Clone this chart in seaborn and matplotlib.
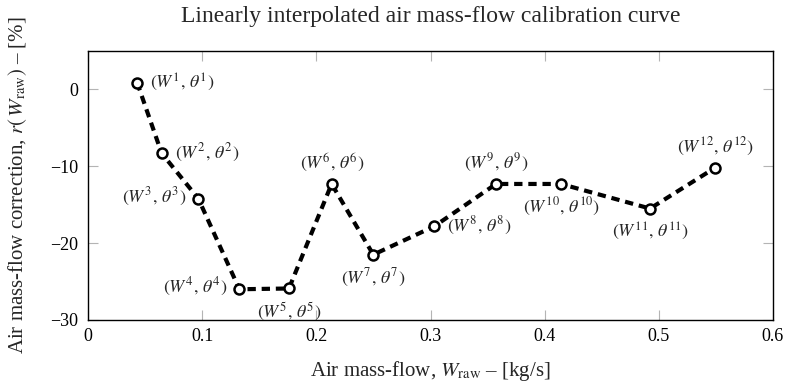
import numpy as np
import pandas as pd
import matplotlib
matplotlib.use("Agg")
import matplotlib.pyplot as plt
import seaborn as sns

# Точки калибровочной кривой
w_raw = [0.043, 0.0645, 0.0966, 0.1326, 0.176, 0.2134, 0.2499, 0.3034, 0.3574, 0.4143, 0.4923, 0.5492]
correction = [0.9, -8.3, -14.2, -26.0, -25.9, -12.3, -21.5, -17.8, -12.3, -12.3, -15.5, -10.2]
point_names = [str(i) for i in range(1, 13)]

x_ticks = [0, 0.1, 0.2, 0.3, 0.4, 0.5, 0.6]
x_tick_labels = ["0", "0.1", "0.2", "0.3", "0.4", "0.5", "0.6"]
y_ticks = [0, -10, -20, -30]
y_tick_labels = ["0", "\u221210", "\u221220", "\u221230"]

# куда ставить подпись: e/w/n/s
label_side = ["e", "e", "w", "w", "s", "n", "s", "e", "n", "s", "s", "n"]

df = pd.DataFrame({"W": w_raw, "r": correction})

sns.set_style("ticks")
plt.rcParams["font.family"] = ["Liberation Serif", "DejaVu Serif"]
plt.rcParams["mathtext.fontset"] = "stix"

fig = plt.figure(figsize=(7.87, 3.86), dpi=100)
ax = fig.add_axes([88 / 787, 1 - 320 / 386, (773 - 88) / 787, (320 - 51) / 386])

sns.lineplot(data=df, x="W", y="r", ax=ax, color="black", lw=3,
             linestyle=(0, (2, 1.4)), marker="o", markersize=7.2,
             markerfacecolor="white", markeredgecolor="black",
             markeredgewidth=1.8, sort=False)

offsets = {"e": ((13, 0), "left", "center"),
           "w": ((-12, 2), "right", "center"),
           "n": ((0, 21), "center", "center"),
           "s": ((0, -23), "center", "center")}
for x, y, name, side in zip(w_raw, correction, point_names, label_side):
    (dx, dy), ha, va = offsets[side]
    ax.annotate(rf"$(W^{{{name}}},\,\theta^{{{name}}})$", (x, y),
                xytext=(dx, dy), textcoords="offset pixels",
                ha=ha, va=va, fontsize=13)

ax.set_xlim(0, 0.6)
ax.set_ylim(-30, 5)
ax.set_xticks(x_ticks)
ax.set_xticklabels(x_tick_labels)
ax.set_yticks(y_ticks)
ax.set_yticklabels(y_tick_labels)
ax.tick_params(axis="both", direction="in", length=7, width=0.8, color="#b4b4b4",
               labelsize=13, labelcolor="black", top=True, right=True)
ax.tick_params(axis="x", pad=6)
ax.tick_params(axis="y", pad=7)
for sp in ax.spines.values():
    sp.set_color("black")
    sp.set_linewidth(1.0)

ax.set_title("Linearly interpolated air mass-flow calibration curve", fontsize=17, pad=21)
ax.set_xlabel(r"Air mass-flow, $W_{\mathrm{raw}}$ – [kg/s]", fontsize=15, labelpad=10)
ax.set_ylabel(r"Air mass-flow correction, $r(\,W_{\mathrm{raw}})$ – [%]", fontsize=15, labelpad=15)

fig.savefig("out.png", dpi=100)
